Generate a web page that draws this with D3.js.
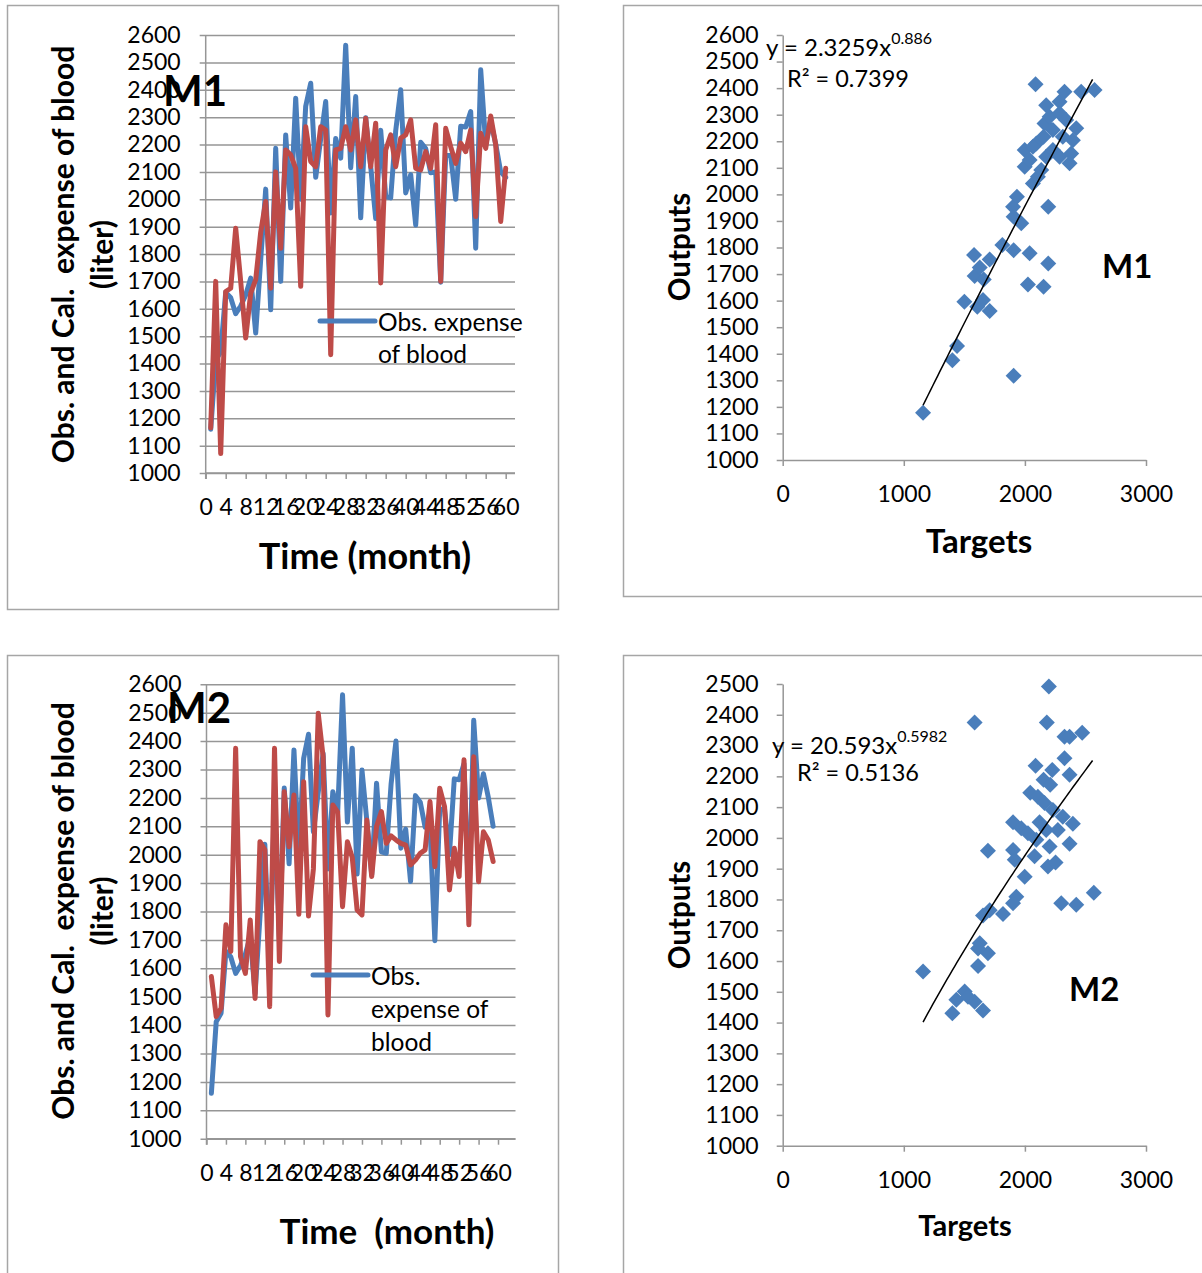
<!DOCTYPE html>
<html>
<head>
<meta charset="utf-8">
<script src="https://cdn.jsdelivr.net/npm/d3@7"></script>
<style>
  body { margin: 0; background: #fff; }
  text { font-family: Lato, "Open Sans", sans-serif; fill: #000; }
</style>
</head>
<body>
<script>
// observed expense of blood, months 1..60
const observed = [1160, 1412, 1442, 1660, 1640, 1582, 1610, 1650, 1712, 1511,
  1780, 2037, 1596, 2186, 1700, 2235, 1968, 2369, 2000, 2340,
  2424, 2080, 2220, 2357, 1950, 2222, 2150, 2563, 2115, 2375,
  1932, 2298, 2120, 1930, 2252, 2010, 2005, 2250, 2400, 2023,
  2090, 1906, 2208, 2185, 2097, 2100, 1697, 2160, 2160, 2000,
  2267, 2264, 2320, 1821, 2473, 2200, 2285, 2202, 2100, 2080];

// calculated, model M1 (60 months)
const calcM1 = [1165, 1700, 1071, 1663, 1675, 1894, 1700, 1493, 1657, 1706,
  1880, 1992, 1675, 2100, 1821, 2180, 2162, 2113, 1682, 2265,
  2138, 2119, 2265, 2253, 1432, 2180, 2186, 2265, 2180, 2290,
  2119, 2296, 2119, 2278, 1694, 2180, 2235, 2119, 2223, 2235,
  2290, 2113, 2107, 2174, 2113, 2272, 1700, 2259, 2192, 2131,
  2205, 2174, 2253, 1937, 2241, 2186, 2304, 2199, 1919, 2113];

// calculated, model M2 (59 months)
const calcM2 = [1571, 1430, 1459, 1753, 1659, 2375, 1641, 1582, 1770, 1494,
  2046, 2017, 1465, 2375, 1624, 2222, 2028, 2210, 1790, 2257,
  1784, 1950, 2498, 2345, 1436, 2175, 2150, 1817, 2046, 1990,
  1805, 1788, 2122, 1923, 2099, 2152, 2040, 2066, 2052, 2040,
  2034, 1964, 1981, 2005, 2017, 2187, 1958, 2234, 2169, 1876,
  2023, 1923, 2334, 1753, 2345, 1905, 2081, 2052, 1976];

const timeTicks = d3.range(0, 61, 4);
const lineYTicks = d3.range(1000, 2601, 100);

// scatter: targets vs outputs
const targetsM1 = [1159, 1401, 1440, 1907, 1500, 1607, 1709, 1654, 1585, 1660, 1580, 1709, 1627,
  1814, 1907, 2039, 2025, 2154, 2193, 2193, 1970, 1907, 1902, 1934, 2066, 2107, 1998, 1998,
  2094, 2176, 2231, 2286, 2369, 2382, 2396, 2424, 2313, 2231, 2162, 2204, 2176, 2286, 2327,
  2465, 2575, 2088, 2066, 2154, 2286, 2341, 2039, 2135];
const outputsM1 = [1178, 1376, 1429, 1317, 1596, 1577, 1561, 1602, 1693, 1680, 1772, 1755, 1725,
  1809, 1790, 1778, 1661, 1652, 1740, 1953, 1891, 1916, 1953, 1991, 2041, 2066, 2104, 2167,
  2192, 2142, 2167, 2142, 2117, 2154, 2204, 2249, 2217, 2242, 2267, 2292, 2336, 2349, 2386,
  2386, 2393, 2415, 2179, 2217, 2305, 2280, 2129, 2092];

const targetsM2 = [2198, 1585, 2181, 2327, 2473, 2369, 2327, 2088, 2226, 2369, 2154, 2209, 2044,
  2107, 2162, 2231, 2313, 2396, 1902, 1970, 2025, 2121, 2176, 2272, 2094, 2204, 2369, 1695,
  1902, 1916, 2080, 2190, 2253, 1998, 1929, 1902, 1819, 1709, 1654, 2300, 2424, 2569, 1627,
  1695, 1613, 1613, 1159, 1503, 1434, 1585, 1401, 1654, 1530];
const outputsM2 = [2492, 2375, 2375, 2329, 2342, 2329, 2259, 2234, 2221, 2205, 2189, 2173, 2147,
  2134, 2113, 2091, 2069, 2046, 2051, 2031, 2015, 2051, 2026, 2026, 1994, 1972, 1981, 1958,
  1961, 1929, 1940, 1907, 1920, 1874, 1809, 1788, 1753, 1765, 1748, 1788, 1783, 1822, 1658,
  1625, 1641, 1584, 1566, 1501, 1474, 1468, 1430, 1439, 1484];

const targetTicks = [0, 1000, 2000, 3000];
const outM1Ticks = d3.range(1000, 2601, 100);
const outM2Ticks = d3.range(1000, 2501, 100);

// power trend lines y = a * x^b
const trendM1 = { a: 2.3259, b: 0.886 };
const trendM2 = { a: 20.593, b: 0.5982 };

const BLUE = "#4a7ebb", RED = "#be4b48", GRID = "#969696";
const fmt = d3.format("d");

const svg = d3.select("body").append("svg")
  .attr("width", 1202).attr("height", 1273);

// panel frames
[[7.5, 5.5, 551, 604], [623.5, 5.5, 600, 591], [7.5, 655.5, 551, 650], [623.5, 655.5, 600, 650]]
  .forEach(r => svg.append("rect").attr("x", r[0]).attr("y", r[1]).attr("width", r[2]).attr("height", r[3])
    .attr("fill", "none").attr("stroke", "#a6a6a6").attr("stroke-width", 1.5));

function lineChart(o) {
  const x = d3.scaleLinear().domain([0, o.xMax]).range([o.left, o.right]);
  const y = d3.scaleLinear().domain([1000, 2600]).range([o.bottom, o.top]);

  const ya = svg.append("g").attr("transform", `translate(${o.left},0)`)
    .call(d3.axisLeft(y).tickValues(lineYTicks).tickFormat(fmt).tickSize(6).tickPadding(19));
  ya.select(".domain").remove();
  ya.selectAll(".tick line").attr("x2", o.right - o.left).attr("x1", -6)
    .attr("stroke", GRID).attr("stroke-width", 1.5);
  ya.selectAll(".tick text").attr("font-size", 23).attr("font-family", "Lato");

  const xa = svg.append("g").attr("transform", `translate(0,${o.bottom})`)
    .call(d3.axisBottom(x).tickValues(timeTicks).tickSize(6).tickPadding(20));
  xa.select(".domain").attr("d", `M${o.left},0H${o.right}`).attr("stroke", GRID).attr("stroke-width", 1.5);
  xa.selectAll(".tick line").attr("stroke", GRID).attr("stroke-width", 1.5);
  xa.selectAll(".tick text").attr("font-size", 23).attr("font-family", "Lato");

  svg.append("line").attr("x1", o.left).attr("x2", o.left).attr("y1", o.top).attr("y2", o.bottom + 6)
    .attr("stroke", GRID).attr("stroke-width", 1.5);

  const line = d3.line().x((d, i) => x(i + 1)).y(d => y(d));
  [[o.obs, BLUE], [o.calc, RED]].forEach(([s, c]) =>
    svg.append("path").attr("d", line(s)).attr("fill", "none").attr("stroke", c)
      .attr("stroke-width", 5).attr("stroke-linejoin", "round").attr("stroke-linecap", "round"));

  // legend
  svg.append("line").attr("x1", o.leg[0]).attr("x2", o.leg[0] + 55).attr("y1", o.leg[1]).attr("y2", o.leg[1])
    .attr("stroke", BLUE).attr("stroke-width", 5).attr("stroke-linecap", "round");
  const lt = svg.append("text").attr("font-size", 24.5).attr("dominant-baseline", "central");
  o.legText.forEach((t, i) => lt.append("tspan").attr("x", o.leg[0] + 58).attr("y", o.leg[1] + i * o.legGap).text(t));

  // titles
  svg.append("text").attr("font-size", 30).attr("font-weight", "bold")
    .attr("text-anchor", "middle").attr("dominant-baseline", "central")
    .attr("transform", `translate(62,${o.yTitleY}) rotate(-90)`)
    .style("white-space", "pre").text("Obs. and Cal.  expense of blood");
  svg.append("text").attr("font-size", 30).attr("font-weight", "bold")
    .attr("text-anchor", "middle").attr("dominant-baseline", "central")
    .attr("transform", `translate(101,${o.yTitleY}) rotate(-90)`).text("(liter)");
  svg.append("text").attr("x", o.xTitle[0]).attr("y", o.xTitle[1]).attr("font-size", o.xTitleSize).attr("font-weight", "bold")
    .attr("text-anchor", "middle").attr("dominant-baseline", "central").style("white-space", "pre").text(o.xTitleText);
  svg.append("text").attr("x", o.tag[0]).attr("y", o.tag[1]).attr("font-size", 42).attr("font-weight", "bold")
    .attr("dominant-baseline", "central").text(o.tagText);
}

lineChart({ left: 205.7, right: 515, xMax: 61.86, top: 35, bottom: 473, obs: observed, calc: calcM1,
  leg: [320, 321], legGap: 32, legText: ["Obs. expense", "of blood"],
  yTitleY: 254.5, xTitle: [365, 555], xTitleSize: 36, xTitleText: "Time (month)", tag: [163, 90], tagText: "M1" });

lineChart({ left: 206.5, right: 515.5, xMax: 63.6, top: 684.3, bottom: 1138.7, obs: observed.slice(0, 59), calc: calcM2,
  leg: [313, 975], legGap: 33, legText: ["Obs.", "expense of", "blood"],
  yTitleY: 911, xTitle: [387, 1230], xTitleSize: 35, xTitleText: "Time  (month)", tag: [167, 707], tagText: "M2" });

function scatterChart(o) {
  const x = d3.scaleLinear().domain([0, 3000]).range([782.7, 1146]);
  const y = d3.scaleLinear().domain([1000, o.yMax]).range([o.bottom, o.top]);

  const ya = svg.append("g").attr("transform", "translate(782.7,0)")
    .call(d3.axisLeft(y).tickValues(o.yTicks).tickFormat(fmt).tickSize(6).tickPadding(18).tickSizeOuter(0));
  ya.select(".domain").attr("stroke", GRID).attr("stroke-width", 1.5);
  ya.selectAll(".tick line").attr("stroke", GRID).attr("stroke-width", 1.5);
  ya.selectAll(".tick text").attr("font-size", 23).attr("font-family", "Lato");

  const xa = svg.append("g").attr("transform", `translate(0,${o.bottom})`)
    .call(d3.axisBottom(x).tickValues(targetTicks).tickFormat(fmt).tickSize(6).tickPadding(20).tickSizeOuter(0));
  xa.select(".domain").attr("stroke", GRID).attr("stroke-width", 1.5);
  xa.selectAll(".tick line").attr("stroke", GRID).attr("stroke-width", 1.5);
  xa.selectAll(".tick text").attr("font-size", 23).attr("font-family", "Lato");

  svg.append("g").selectAll("path").data(o.tx).join("path")
    .attr("d", "M0,-8L8,0L0,8L-8,0Z").attr("fill", BLUE)
    .attr("transform", (d, i) => `translate(${x(d)},${y(o.ty[i])})`);

  const xs = d3.range(d3.min(o.tx), d3.max(o.tx) + 1, 20);
  svg.append("path").attr("d", d3.line().x(d => x(d)).y(d => y(o.trend.a * Math.pow(d, o.trend.b)))(xs))
    .attr("fill", "none").attr("stroke", "#000").attr("stroke-width", 1.5);

  const eq = svg.append("text").attr("x", o.eq[0]).attr("y", o.eq[1]).attr("font-size", 24).attr("dominant-baseline", "central");
  eq.append("tspan").text(`y = ${o.trend.a}x`);
  eq.append("tspan").attr("font-size", 16).attr("dy", -9).text(o.trend.b);
  svg.append("text").attr("x", o.r2[0]).attr("y", o.r2[1]).attr("font-size", 23.5).attr("dominant-baseline", "central")
    .text(`R² = ${o.r2Text}`);

  svg.append("text").attr("font-size", o.yTitleSize).attr("font-weight", "bold")
    .attr("text-anchor", "middle").attr("dominant-baseline", "central")
    .attr("transform", `translate(678,${o.yTitleY}) rotate(-90)`).text("Outputs");
  svg.append("text").attr("x", o.xTitle[0]).attr("y", o.xTitle[1]).attr("font-size", o.xTitleSize).attr("font-weight", "bold")
    .attr("text-anchor", "middle").attr("dominant-baseline", "central").text("Targets");
  svg.append("text").attr("x", o.tag[0]).attr("y", o.tag[1]).attr("font-size", 33).attr("font-weight", "bold")
    .attr("dominant-baseline", "central").text(o.tagText);
}

scatterChart({ yMax: 2600, top: 35, bottom: 460, yTicks: outM1Ticks, tx: targetsM1, ty: outputsM1, trend: trendM1,
  eq: [766, 46], r2: [787, 78], r2Text: "0.7399", yTitleY: 247, yTitleSize: 29.5, xTitle: [979, 540], xTitleSize: 33,
  tag: [1102, 265], tagText: "M1" });

scatterChart({ yMax: 2500, top: 684, bottom: 1145.7, yTicks: outM2Ticks, tx: targetsM2, ty: outputsM2, trend: trendM2,
  eq: [772, 744], r2: [797, 772], r2Text: "0.5136", yTitleY: 915, yTitleSize: 29.5, xTitle: [965, 1224], xTitleSize: 29,
  tag: [1069, 988], tagText: "M2" });
</script>
</body>
</html>
